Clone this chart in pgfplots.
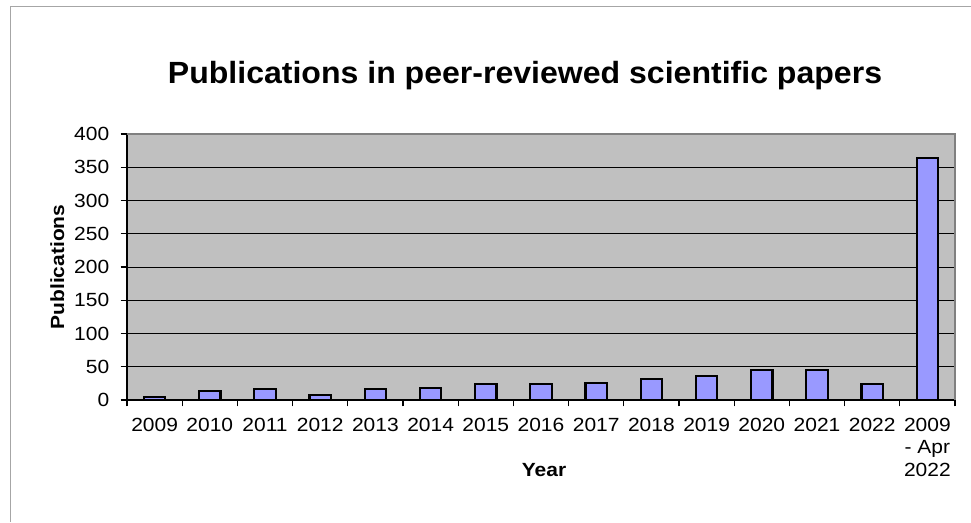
\documentclass[border=0pt]{standalone}
\usepackage{pgfplots}
\pgfplotsset{compat=1.18}
\usepackage{fontspec}
\setmainfont{Liberation Sans}
\newfontfamily\tickfont{Liberation Sans}[FakeStretch=1.1]
\newfontfamily\titlefont{Liberation Sans}[FakeStretch=1.045]

\definecolor{plotbg}{HTML}{C0C0C0}
\definecolor{barfill}{HTML}{9999FF}
\definecolor{frameg}{HTML}{808080}

\begin{document}
\begin{tikzpicture}

\path[use as bounding box] (0,0) rectangle (728.25pt,391.5pt);
\draw[frameg!70, line width=0.75pt] (7.5pt,0) -- (7.5pt,386.25pt) -- (728.25pt,386.25pt);

\begin{axis}[
  at={(95.25pt,91.5pt)}, anchor=south west,
  width=621pt, height=199.5pt,
  scale only axis,
  axis x line*=bottom, axis y line*=left,
  axis line style={-, black, line width=1.1pt},
  axis background/.style={fill=plotbg},
  xmin=-0.5, xmax=14.5,
  ymin=0, ymax=400,
  ytick={0,50,...,400},
  xtick={-0.5,0.5,...,14.5},
  x tick label as interval,
  xticklabels={2009,2010,2011,2012,2013,2014,2015,2016,2017,2018,2019,2020,2021,2022,{2009\\- Apr\\2022}},
  tick align=outside,
  major tick length=4.8pt,
  tick style={black, line width=0.8pt},
  ymajorgrids,
  grid style={black, line width=0.75pt},
  ticklabel style={font=\tickfont\fontsize{14.3}{17}\selectfont},
  xticklabel style={align=center, anchor=north, yshift=-5pt},
  yticklabel style={xshift=-5pt},
  /pgf/number format/assume math mode=true,
  ybar, bar width=16pt,
  clip=false,
]
\addplot[draw=black, line width=1.7pt, fill=barfill]
  coordinates {
    (0,5) (1,13) (2,17) (3,7) (4,16) (5,18) (6,24) (7,24)
    (8,26) (9,32) (10,36) (11,45) (12,45) (13,24) (14,364)
  };
\draw[frameg, line width=1.1pt] (rel axis cs:0,1) -- (rel axis cs:1,1) -- (rel axis cs:1,0);
\end{axis}

\node[anchor=base, font=\titlefont\fontsize{23}{27}\selectfont\bfseries] at (393.75pt,329pt) {Publications in peer-reviewed scientific papers};
\node[anchor=base, font=\tickfont\fontsize{14.3}{17}\selectfont\bfseries] at (408pt,34pt) {Year};
\node[anchor=base, rotate=90, font=\tickfont\fontsize{14.3}{17}\selectfont\bfseries] at (48pt,191.25pt) {Publications};

\end{tikzpicture}
\end{document}
